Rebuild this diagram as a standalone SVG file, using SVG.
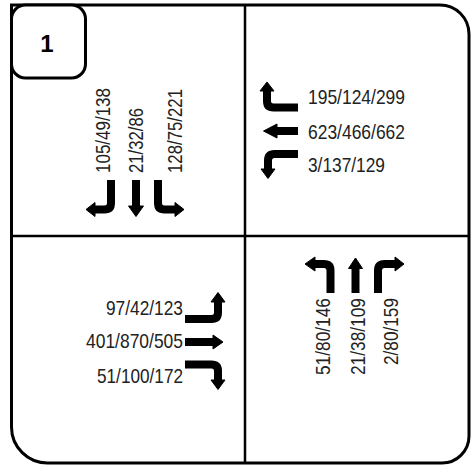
<svg xmlns="http://www.w3.org/2000/svg" width="471" height="465" viewBox="0 0 471 465">
<style>
.frame{fill:none;stroke:#000;stroke-width:3}
.grid{fill:none;stroke:#000;stroke-width:2.5}
.lbl{font-family:"Liberation Sans",Arial,sans-serif;font-size:21px;fill:#222}
.num{font-family:"Liberation Sans",Arial,sans-serif;font-size:24px;font-weight:bold;fill:#000}
.arr{fill:none;stroke:#000;stroke-width:8;stroke-linejoin:round}
.head{fill:#000;stroke:#000;stroke-width:1;stroke-linejoin:round}
</style>
<rect x="0" y="0" width="471" height="465" fill="#fff"/>
<g id="frame">
<path class="frame" d="M11.5,5 H440 A29,29 0 0 1 469,34 V436 A27,27 0 0 1 442,463 H48 A36,36 0 0 1 11.5,427 Z"/>
<line class="grid" x1="245" y1="5" x2="245" y2="463"/>
<line class="grid" x1="11.5" y1="236" x2="469" y2="236"/>
</g>
<g id="badge">
<rect x="11.5" y="5" width="74" height="73" rx="14" fill="#fff" stroke="#000" stroke-width="3"/>
<text class="num" x="47" y="52" text-anchor="middle">1</text>
</g>
<g id="southbound">
<text class="lbl" transform="translate(110,173) rotate(-90)" textLength="85" lengthAdjust="spacingAndGlyphs">105/49/138</text>
<text class="lbl" transform="translate(143,173) rotate(-90)" textLength="65" lengthAdjust="spacingAndGlyphs">21/32/86</text>
<text class="lbl" transform="translate(182,173) rotate(-90)" textLength="84" lengthAdjust="spacingAndGlyphs">128/75/221</text>
<path class="arr" d="M111,180 V203 Q111,209.5 104.5,209.5 H95"/>
<polygon class="head" points="95,202.5 86,209.5 95,216.5"/>
<path class="arr" d="M136,180 V207"/>
<polygon class="head" points="128.5,206 136,216.5 143.5,206"/>
<path class="arr" d="M158,180 V203 Q158,209.5 164.5,209.5 H175"/>
<polygon class="head" points="175,202.5 184,209.5 175,216.5"/>
</g>
<g id="westbound">
<text class="lbl" x="308" y="104" textLength="97" lengthAdjust="spacingAndGlyphs">195/124/299</text>
<text class="lbl" x="308" y="139" textLength="97" lengthAdjust="spacingAndGlyphs">623/466/662</text>
<text class="lbl" x="308" y="172" textLength="77" lengthAdjust="spacingAndGlyphs">3/137/129</text>
<path class="arr" d="M298,107.5 H273.5 Q267,107.5 267,101 V90"/>
<polygon class="head" points="260,91 267,82 274,91"/>
<path class="arr" d="M298,131 H277"/>
<polygon class="head" points="277,124 263.5,131 277,138"/>
<path class="arr" d="M298,154 H274.5 Q268,154 268,160.5 V170"/>
<polygon class="head" points="261,169 268,178.5 275,169"/>
</g>
<g id="eastbound">
<text class="lbl" x="183" y="315" text-anchor="end" textLength="77" lengthAdjust="spacingAndGlyphs">97/42/123</text>
<text class="lbl" x="183" y="348" text-anchor="end" textLength="97" lengthAdjust="spacingAndGlyphs">401/870/505</text>
<text class="lbl" x="183" y="383" text-anchor="end" textLength="86" lengthAdjust="spacingAndGlyphs">51/100/172</text>
<path class="arr" d="M185,319 H211.5 Q218,319 218,312.5 V301"/>
<polygon class="head" points="211,302 218,292.5 225,302"/>
<path class="arr" d="M185,342 H213"/>
<polygon class="head" points="213,335 223,342 213,349"/>
<path class="arr" d="M185,364.5 H211.5 Q218,364.5 218,371 V381"/>
<polygon class="head" points="211,380 218,389.5 225,380"/>
</g>
<g id="northbound">
<text class="lbl" transform="translate(330,375) rotate(-90)" textLength="77" lengthAdjust="spacingAndGlyphs">51/80/146</text>
<text class="lbl" transform="translate(365,375) rotate(-90)" textLength="77" lengthAdjust="spacingAndGlyphs">21/38/109</text>
<text class="lbl" transform="translate(398,365) rotate(-90)" textLength="67" lengthAdjust="spacingAndGlyphs">2/80/159</text>
<path class="arr" d="M330.5,293 V270.5 Q330.5,264 324,264 H315"/>
<polygon class="head" points="315,257 305,264 315,271"/>
<path class="arr" d="M355.5,293 V268"/>
<polygon class="head" points="348.5,268.5 355.5,258 362.5,268.5"/>
<path class="arr" d="M378,293 V270.5 Q378,264 384.5,264 H395"/>
<polygon class="head" points="395,257 404,264 395,271"/>
</g>
</svg>
